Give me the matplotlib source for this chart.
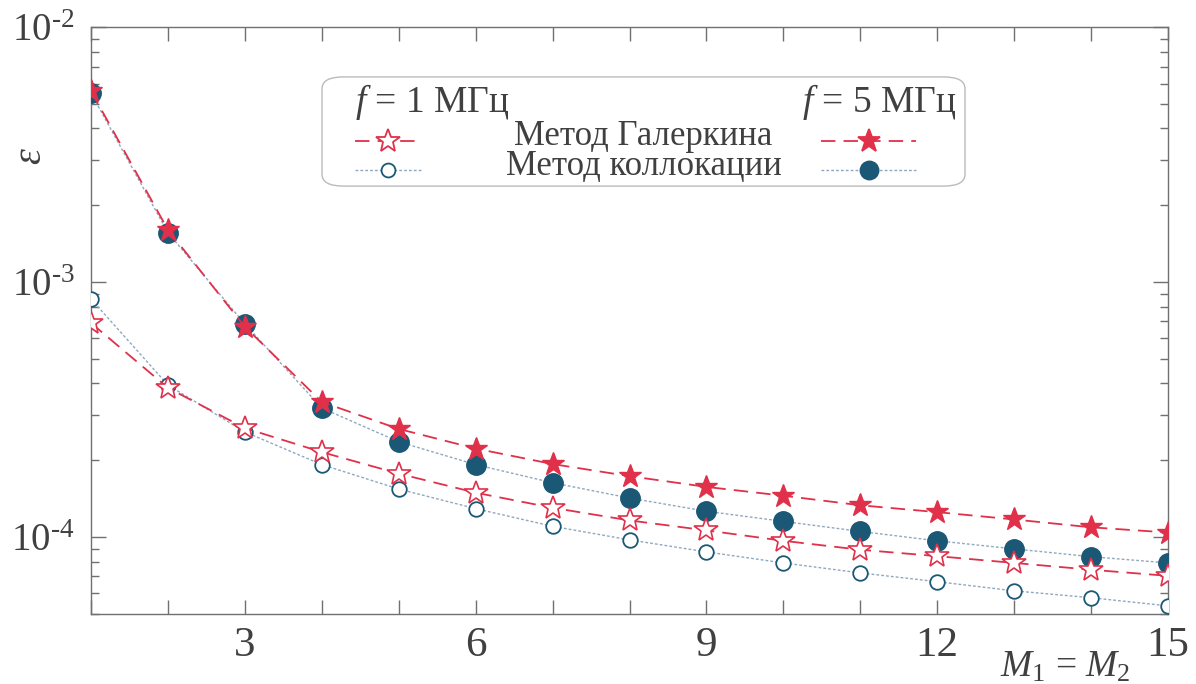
import math
import matplotlib
matplotlib.use("Agg")
import matplotlib.pyplot as plt
import matplotlib.ticker as ticker
from matplotlib.patches import FancyBboxPatch
from matplotlib.lines import Line2D

plt.rcParams["font.family"] = ["Liberation Serif", "DejaVu Serif"]
plt.rcParams["mathtext.fontset"] = "custom"
plt.rcParams["mathtext.rm"] = "Liberation Serif"
plt.rcParams["mathtext.it"] = "Liberation Serif:italic"

RED = "#E0304A"
TEAL = "#1B5876"
GREYBLUE = "#8FA8C0"
TXT = "#404040"

# M1 = M2
m = list(range(1, 16))

# f = 1 MHz
galerkin_1 = [6.9e-4, 3.84e-4, 2.67e-4, 2.15e-4, 1.77e-4, 1.49e-4, 1.30e-4, 1.16e-4,
              1.06e-4, 9.65e-5, 8.9e-5, 8.4e-5, 7.9e-5, 7.43e-5, 7.03e-5]
colloc_1 = [8.57e-4, 3.94e-4, 2.58e-4, 1.92e-4, 1.54e-4, 1.29e-4, 1.10e-4, 9.73e-5,
            8.73e-5, 7.9e-5, 7.22e-5, 6.67e-5, 6.14e-5, 5.77e-5, 5.36e-5]

# f = 5 MHz
galerkin_5 = [5.61e-3, 1.60e-3, 6.67e-4, 3.38e-4, 2.65e-4, 2.22e-4, 1.93e-4, 1.73e-4,
              1.57e-4, 1.45e-4, 1.33e-4, 1.25e-4, 1.17e-4, 1.09e-4, 1.04e-4]
colloc_5 = [5.5e-3, 1.56e-3, 6.84e-4, 3.2e-4, 2.36e-4, 1.92e-4, 1.63e-4, 1.42e-4,
            1.26e-4, 1.15e-4, 1.05e-4, 9.65e-5, 8.97e-5, 8.36e-5, 7.9e-5]

fig = plt.figure(figsize=(11.96, 6.84), dpi=100)
ax = fig.add_axes([0.0761, 0.1023, 0.9005, 0.8582])

dotted = dict(color=GREYBLUE, linestyle=(0, (2, 1.5)), linewidth=1.0)
dashed = dict(color=RED, linestyle=(0, (8, 4.5)), linewidth=1.3)

ax.plot(m, colloc_1, marker="o", markersize=10.5, markerfacecolor="white",
        markeredgecolor=TEAL, markeredgewidth=1.3, zorder=3, **dotted)
ax.plot(m, colloc_5, marker="o", markersize=14, markerfacecolor=TEAL,
        markeredgecolor=TEAL, zorder=3, **dotted)
ax.plot(m, galerkin_1, marker="*", markersize=18, markerfacecolor="white",
        markeredgecolor=RED, markeredgewidth=1.2, zorder=4, **dashed)
ax.plot(m, galerkin_5, marker="*", markersize=17, markerfacecolor=RED,
        markeredgecolor=RED, zorder=4, **dashed)

ax.set_yscale("log")
ax.set_xlim(1, 15)
ax.set_ylim(4.98e-5, 1e-2)

ax.xaxis.set_major_locator(ticker.MultipleLocator(1))
ax.xaxis.set_major_formatter(ticker.FuncFormatter(
    lambda v, _: f"{int(round(v))}" if round(v) % 3 == 0 else ""))
ax.yaxis.set_major_locator(ticker.LogLocator(base=10, numticks=10))
ax.yaxis.set_minor_locator(ticker.LogLocator(base=10, subs=range(2, 10), numticks=20))
ax.yaxis.set_minor_formatter(ticker.NullFormatter())
ax.yaxis.set_major_formatter(ticker.FuncFormatter(
    lambda v, _: r"10$^{\text{%d}}$" % round(math.log10(v))))

ax.tick_params(which="both", direction="in", top=True, right=True, colors="#707070",
               labelcolor=TXT, width=1.0)
ax.tick_params(axis="x", which="major", length=10, pad=9, labelsize=31)
ax.tick_params(axis="y", which="major", length=11, pad=12, labelsize=28)
ax.tick_params(axis="y", which="minor", length=6)
for s in ax.spines.values():
    s.set_color("#707070")
    s.set_linewidth(1.0)

ax.text(-0.055, 0.78, r"$\varepsilon$", transform=ax.transAxes, rotation=90,
        fontsize=29, color=TXT, ha="center", va="center")
ax.text(0.905, -0.09, r"$M_1$ = $M_2$", transform=ax.transAxes,
        fontsize=27, color=TXT, ha="center", va="center")

# custom legend
box = FancyBboxPatch((0.2145, 0.729), 0.597, 0.186, transform=ax.transAxes,
                     boxstyle="round,pad=0,rounding_size=0.02", facecolor="white",
                     edgecolor="#BBBBBB", linewidth=1.0, zorder=5)
ax.add_patch(box)
ax.text(0.245, 0.873, r"$f$ = 1 МГц", transform=ax.transAxes, fontsize=27,
        color=TXT, ha="left", va="center", zorder=6)
ax.text(0.804, 0.873, r"$f$ = 5 МГц", transform=ax.transAxes, fontsize=27,
        color=TXT, ha="right", va="center", zorder=6)
ax.text(0.513, 0.813, "Метод Галеркина", transform=ax.transAxes, fontsize=25,
        color=TXT, ha="center", va="center", zorder=6)
ax.text(0.513, 0.762, "Метод коллокации", transform=ax.transAxes, fontsize=25,
        color=TXT, ha="center", va="center", zorder=6)

handles = [
    (0.245, 0.307, 0.806, "*", "white", RED, 18, dashed),
    (0.245, 0.307, 0.757, "o", "white", TEAL, 10, dotted),
    (0.678, 0.766, 0.806, "*", RED, RED, 17, dashed),
    (0.678, 0.766, 0.757, "o", TEAL, TEAL, 13, dotted),
]
for x0, x1, y, mk, fc, ec, ms, style in handles:
    ax.add_line(Line2D([x0, x1], [y, y], transform=ax.transAxes, zorder=6, **style))
    ax.add_line(Line2D([(x0 + x1) / 2], [y], transform=ax.transAxes, marker=mk,
                       markersize=ms, markerfacecolor=fc, markeredgecolor=ec,
                       markeredgewidth=1.3, linestyle="none", zorder=7))

plt.savefig("out.png", dpi=100)
plt.close()
